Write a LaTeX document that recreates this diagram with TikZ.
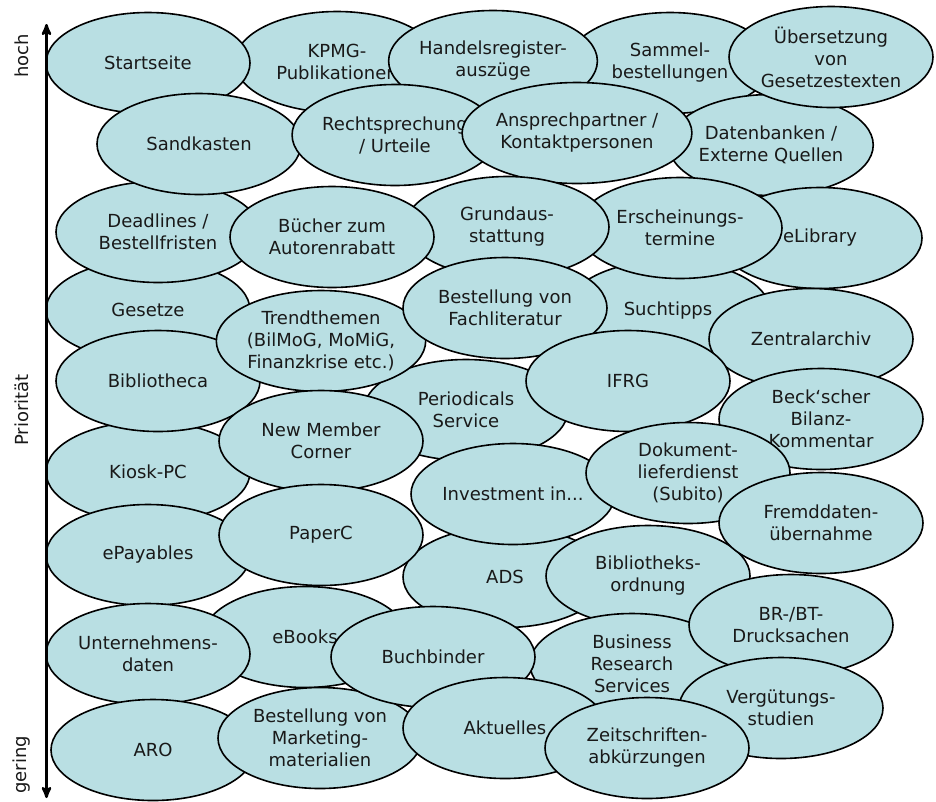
\documentclass[tikz,border=0pt]{standalone}
\usepackage{fontspec}
\setmainfont{DejaVu Sans}
\usepackage{tikz}
\usetikzlibrary{arrows,shapes.geometric}
\definecolor{topicblue}{RGB}{185,223,227}

\begin{document}
\begin{tikzpicture}[x=1pt,y=-1pt,>=stealth',semithick]
  \tikzstyle{topic}=[ellipse,draw=black,fill=topicblue,text=black!90,
                     line width=1.6pt,inner sep=0pt,align=center,
                     minimum width=204pt,minimum height=101pt,
                     font=\fontsize{18pt}{22pt}\selectfont]
  \tikzstyle{axislabel}=[rotate=90,text=black!90,
                     font=\fontsize{18pt}{22pt}\selectfont]

  \useasboundingbox (0,0) rectangle (936,801);

  \node[topic] (gesetze)      at (148,310) {Gesetze};
  \node[topic] (deadlines)    at (158,232) {Deadlines /\\Bestellfristen};
  \node[topic] (kpmg)         at (337,62)  {KPMG-\\Publikationen};
  \node[topic] (startseite)   at (148,63)  {Startseite};
  \node[topic] (sammel)       at (670,63)  {Sammel-\\bestellungen};
  \node[topic] (datenbanken)  at (771,145) {Datenbanken /\\Externe Quellen};
  \node[topic] (handel)       at (493,61)  {Handelsregister-\\auszüge};
  \node[topic] (uebersetzung) at (831,57)  {Übersetzung\\von\\Gesetzestexten};
  \node[topic] (sandkasten)   at (199,144) {Sandkasten};
  \node[topic] (recht)        at (395,135) {Rechtsprechung\\/ Urteile};
  \node[topic] (ansprech)     at (577,133) {Ansprechpartner /\\Kontaktpersonen};
  \node[topic] (elibrary)     at (820,238) {eLibrary};
  \node[topic] (suchtipps)    at (668,311) {Suchtipps};
  \node[topic] (erscheinung)  at (680,228) {Erscheinungs-\\termine};
  \node[topic] (grundaus)     at (507,227) {Grundaus-\\stattung};
  \node[topic] (buecher)      at (332,237) {Bücher zum\\Autorenrabatt};
  \node[topic] (kiosk)        at (148,472) {Kiosk-PC};
  \node[topic] (bibliotheca)  at (158,381) {Bibliotheca};
  \node[topic] (periodicals)  at (466,410) {Periodicals\\Service};
  \node[topic] (trend)        at (321,341) {Trendthemen\\(BilMoG, MoMiG,\\Finanzkrise etc.)};
  \node[topic] (fachlit)      at (505,308) {Bestellung von\\Fachliteratur};
  \node[topic] (zentral)      at (811,339) {Zentralarchiv};
  \node[topic] (ifrg)         at (628,381) {IFRG};
  \node[topic] (newmember)    at (321,441) {New Member\\Corner};
  \node[topic] (beck)         at (821,419) {Beck‘scher\\Bilanz-\\Kommentar};
  \node[topic] (ads)          at (505,577) {ADS};
  \node[topic] (investment)   at (513,494) {Investment in...};
  \node[topic] (dokument)     at (688,473) {Dokument-\\lieferdienst\\(Subito)};
  \node[topic] (bibordnung)   at (648,576) {Bibliotheks-\\ordnung};
  \node[topic] (fremd)        at (821,523) {Fremddaten-\\übernahme};
  \node[topic] (epayables)    at (148,555) {ePayables};
  \node[topic] (paperc)       at (321,535) {PaperC};
  \node[topic] (ebooks)       at (305,637) {eBooks};
  \node[topic] (unternehmen)  at (148,654) {Unternehmens-\\daten};
  \node[topic] (aro)          at (153,750) {ARO};
  \node[topic] (marketing)    at (320,738) {Bestellung von\\Marketing-\\materialien};
  \node[topic] (business)     at (632,664) {Business\\Research\\Services};
  \node[topic] (buchbinder)   at (433,657) {Buchbinder};
  \node[topic] (brbt)         at (791,625) {BR-/BT-\\Drucksachen};
  \node[topic] (aktuelles)    at (505,728) {Aktuelles};
  \node[topic] (verguetung)   at (781,708) {Vergütungs-\\studien};
  \node[topic] (zeitschriften) at (647,748) {Zeitschriften-\\abkürzungen};

  % priority axis
  \coordinate (hi) at (46.5,24);
  \coordinate (lo) at (46.5,798);
  \draw[<->,line width=2.6pt] (hi) -- (lo);
  \node[axislabel] (hoch)      at (22,56)  {hoch};
  \node[axislabel] (prioritaet) at (22,410) {Priorität};
  \node[axislabel] (gering)    at (22,765) {gering};
\end{tikzpicture}
\end{document}
